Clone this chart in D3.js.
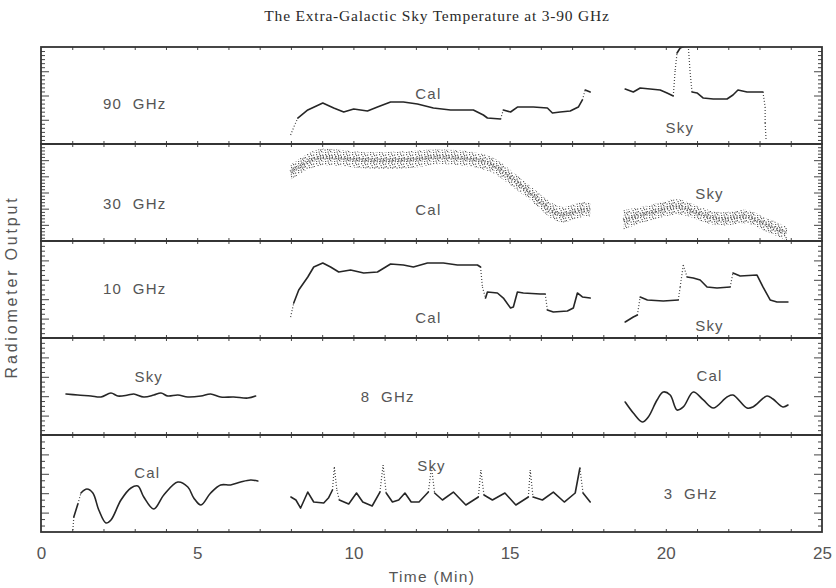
<!DOCTYPE html>
<html>
<head>
<meta charset="utf-8">
<script src="https://cdn.jsdelivr.net/npm/d3@7"></script>
<style>
  html, body { margin: 0; padding: 0; background: #fff; }
  svg { display: block; }
</style>
</head>
<body>
<svg id="chart" width="836" height="588"></svg>
<script>
// ---------------- DATA (time in minutes, output in % of panel height) ----------------
const title = "The Extra-Galactic Sky Temperature at 3-90 GHz";
const xTickValues = [0, 5, 10, 15, 20, 25];
const xLabel = "Time (Min)";
const yLabel = "Radiometer Output";
const panelNames = ["90 GHz", "30 GHz", "10 GHz", "8 GHz", "3 GHz"];
const yMajorDivisions = [4, 6, 5, 5, 5];
const yMinorPerMajor = [6, 5, 4, 4, 3];

// 90 GHz
const cal90 = [[7.99,9.3],[8.1,18],[8.22,26.8],[8.54,35.1],[9.02,42.3],[9.37,37.1],[9.69,33.0],[10.01,36.1],[10.45,34.0],[10.77,38.1],[11.19,43.3],[11.6,43.3],[12.05,41.2],[12.56,37.1],[13.11,35.1],[13.52,35.1],[13.84,35.1],[14.16,29.9],[14.29,26.8],[14.71,25.8],[14.8,35.1],[15.03,33.0],[15.25,38.1],[15.76,38.1],[16.21,37.1],[16.37,32.0],[16.62,33.0],[16.94,34.0],[17.2,38.1],[17.33,45.4],[17.42,55.7],[17.58,53.6]];
const sky90 = [[18.7,56.7],[18.96,53.6],[19.18,57.7],[19.5,56.7],[19.82,55.7],[20.04,52.6],[20.24,49.5],[20.3,76.3],[20.36,93.8],[20.46,99],[20.62,101],[20.72,101],[20.78,73.2],[20.84,53.6],[21.0,52.6],[21.2,47.4],[21.52,46.4],[21.96,46.4],[22.15,50.5],[22.31,55.7],[22.6,53.6],[22.92,53.6],[23.11,53.6],[23.18,38.1],[23.18,21.6],[23.21,4.1]];

// 30 GHz (scatter cloud: centre, half-spread)
const cal30 = [[7.99,71.1,7.7],[8.45,80.4,8],[8.95,88.7,8.8],[10.01,83.5,8],[11.09,82.5,9],[12.15,84.5,9],[12.56,87.6,7],[13.65,85.6,8],[14.48,80.4,8],[15.03,64.9,8],[15.57,52.6,7],[16.08,37.1,8],[16.53,26.8,8],[16.85,26.8,8],[17.26,33.0,8],[17.58,32.0,7]];
const sky30 = [[18.64,21.6,10],[19.18,26.8,8],[19.73,30.9,8],[20.36,37.1,8],[20.78,32.0,7],[21.42,23.7,7],[21.96,21.6,7],[22.6,27.8,7],[23.11,17.5,7],[23.66,11.3,7],[23.88,7.2,7]];

// 10 GHz
const cal10 = [[7.99,21.6],[8.09,36.1],[8.25,49.5],[8.54,62.9],[8.73,73.2],[9.02,77.3],[9.27,73.2],[9.53,68.0],[9.91,70.1],[10.33,67.0],[10.77,68.0],[11.19,76.3],[11.6,75.3],[11.92,73.2],[12.37,77.3],[12.88,77.3],[13.33,75.3],[13.97,75.3],[14.07,73.2],[14.13,52.6],[14.23,41.2],[14.29,47.4],[14.61,46.4],[14.8,41.2],[15.03,30.9],[15.12,32.0],[15.25,47.4],[15.44,46.4],[15.98,45.4],[16.14,45.4],[16.21,28.9],[16.4,26.8],[16.85,27.8],[17.04,30.9],[17.17,46.4],[17.33,42.3],[17.58,41.2]];
const sky10 = [[18.7,16.5],[18.96,21.6],[19.09,23.7],[19.18,42.3],[19.41,39.2],[19.92,38.1],[20.4,39.2],[20.46,52.6],[20.56,75.3],[20.68,62.9],[20.88,61.9],[21.1,59.8],[21.32,52.6],[21.64,51.5],[22.06,52.6],[22.15,67.0],[22.38,63.9],[22.92,64.9],[23.11,52.6],[23.34,39.2],[23.56,37.1],[23.91,37.1]];

// 8 GHz
const sky8 = [[0.8,42.3],[1.18,41.2],[1.6,40.2],[1.92,39.2],[2.24,43.3],[2.46,40.2],[2.78,41.2],[2.97,42.3],[3.29,39.2],[3.61,41.2],[3.84,43.3],[4.06,40.2],[4.38,41.2],[4.7,39.2],[5.12,40.2],[5.43,42.3],[5.75,39.2],[6.17,39.2],[6.62,38.1],[6.87,40.2]];
const cal8 = [[18.7,34.0],[18.96,22.7],[19.25,13.4],[19.44,18.6],[19.72,36.1],[19.92,44.3],[20.14,41.2],[20.36,25.8],[20.56,28.9],[20.88,44.3],[21.2,36.1],[21.52,27.8],[21.96,39.2],[22.15,41.2],[22.6,27.8],[22.79,28.9],[23.24,40.2],[23.43,37.1],[23.75,28.9],[23.91,30.9]];

// 3 GHz
const cal3 = [[1.02,2.1],[1.05,15.5],[1.18,28.9],[1.28,40.2],[1.47,44.3],[1.66,40.2],[1.85,22.7],[2.08,9.3],[2.24,12.4],[2.56,33.0],[2.88,45.4],[3.1,47.4],[3.29,36.1],[3.61,23.7],[3.93,38.1],[4.38,51.5],[4.7,46.4],[4.89,35.1],[5.12,27.8],[5.43,40.2],[5.75,48.5],[6.07,48.5],[6.39,51.5],[6.71,53.6],[6.94,52.6]];
const sky3 = [[8.0,36.1],[8.16,33.0],[8.31,24.7],[8.54,41.2],[8.73,30.9],[9.05,29.9],[9.2,35],[9.33,43.3],[9.39,67.0],[9.47,43.3],[9.55,33.0],[9.85,28.9],[10.1,40.2],[10.3,30.9],[10.6,26.8],[10.85,41.2],[10.95,69.1],[11.05,40.2],[11.25,30.9],[11.45,33.0],[11.65,40.2],[11.85,30.9],[12.1,30.9],[12.4,41.2],[12.5,67.0],[12.6,40.2],[12.85,33.0],[13.2,41.2],[13.6,27.8],[14.0,36.1],[14.08,63.9],[14.18,38.1],[14.45,33.0],[14.85,40.2],[15.2,27.8],[15.6,36.1],[15.66,63.9],[15.75,36.1],[16.05,33.0],[16.4,41.2],[16.75,30.9],[17.1,40.2],[17.25,66.0],[17.35,40.2],[17.58,30.9]];

// Panel text labels: [panel, text, time, output]
const panelLabels = [
  [0, "90 GHz", 3.0, 40], [0, "Cal", 12.4, 50], [0, "Sky", 20.45, 15],
  [1, "30 GHz", 3.0, 37], [1, "Cal", 12.4, 31], [1, "Sky", 21.4, 47],
  [2, "10 GHz", 3.0, 49], [2, "Cal", 12.4, 20], [2, "Sky", 21.4, 11],
  [3, "Sky", 3.45, 58.5], [3, "8 GHz", 11.1, 38.5], [3, "Cal", 21.4, 59.5],
  [4, "Cal", 3.4, 60], [4, "Sky", 12.5, 67], [4, "3 GHz", 20.8, 38.5]
];

// ---------------- LAYOUT ----------------
const svg = d3.select("#chart");
const plotL = 41, plotR = 822, plotT = 47, panelH = 97, nP = 5;
const x = d3.scaleLinear().domain([0, 25]).range([plotL, plotR]);
const ink = "#262626";
const sans = "'Liberation Sans', Arial, sans-serif";

svg.append("text").attr("x", 437).attr("y", 21).attr("text-anchor", "middle")
  .attr("font-family", "'Liberation Serif', 'DejaVu Serif', serif").attr("font-size", 15.5)
  .attr("letter-spacing", 0.8).attr("fill", "#2a2a2a").text(title);

const defs = svg.append("defs");
const pat = defs.append("pattern").attr("id", "speck").attr("patternUnits", "userSpaceOnUse")
  .attr("width", 9).attr("height", 9);
const speckPts = [[1,1],[5,2],[8,4],[3,5],[6,7],[1,8],[4,0.5],[7.5,8.5],[2.5,3],[0.5,5.5],[6.5,4.5],[3.5,7.5],[7,1.5],[5,5.5]];
pat.selectAll("rect").data(speckPts).join("rect")
  .attr("x", d => d[0]).attr("y", d => d[1]).attr("width", 1.2).attr("height", 1.2).attr("fill", "#333");

const ys = [];
for (let p = 0; p < nP; p++) {
  const y0 = plotT + p * panelH;
  const y = d3.scaleLinear().domain([0, 100]).range([y0 + panelH, y0]);
  ys.push(y);
  const g = svg.append("g");
  defs.append("clipPath").attr("id", "clip" + p).append("rect")
    .attr("x", plotL).attr("y", y0).attr("width", plotR - plotL).attr("height", panelH);

  const nMaj = yMajorDivisions[p], nMin = yMinorPerMajor[p];
  const maj = d3.range(1, nMaj).map(i => i * 100 / nMaj);
  const mins = d3.range(1, nMaj * nMin).map(i => i * 100 / (nMaj * nMin)).filter(v => !maj.some(m => Math.abs(m - v) < 1e-6));
  const addAxis = (gen, xPos, vals, size) => g.append("g").attr("transform", `translate(${xPos},0)`)
    .call(gen(y).tickValues(vals).tickSize(size).tickFormat(""))
    .call(a => a.select(".domain").remove());
  addAxis(d3.axisRight, plotL, maj, 8);
  addAxis(d3.axisRight, plotL, mins, 4);
  addAxis(d3.axisLeft, plotR, maj, 8);
  addAxis(d3.axisLeft, plotR, mins, 4);
  const minuteTicks = d3.range(1, 25);
  g.append("g").attr("transform", `translate(0,${y0})`)
    .call(d3.axisBottom(x).tickValues(minuteTicks).tickSize(3).tickFormat(""))
    .call(a => a.select(".domain").remove());
  g.append("g").attr("transform", `translate(0,${y0 + panelH})`)
    .call(d3.axisTop(x).tickValues(minuteTicks).tickSize(3).tickFormat(""))
    .call(a => a.select(".domain").remove());
  g.selectAll(".tick line").attr("stroke", "#444").attr("stroke-width", 1);
}

// split a series into smooth runs and steep (sparsely sampled) jumps
function drawLine(p, data, curve) {
  const y = ys[p];
  const runs = [[data[0]]], jumps = [];
  for (let i = 1; i < data.length; i++) {
    const a = data[i - 1], b = data[i];
    const steep = Math.abs(y(b[1]) - y(a[1])) > 7 && Math.abs(x(b[0]) - x(a[0])) < 4;
    if (steep) { jumps.push([a, b]); runs.push([b]); }
    else runs[runs.length - 1].push(b);
  }
  const gen = d3.line().x(d => x(d[0])).y(d => y(d[1])).curve(curve || d3.curveLinear);
  const jg = d3.line().x(d => x(d[0])).y(d => y(d[1]));
  const grp = svg.append("g").attr("clip-path", `url(#clip${p})`);
  grp.selectAll("path.run").data(runs.filter(r => r.length > 1)).join("path").attr("class", "run")
    .attr("d", gen).attr("fill", "none").attr("stroke", ink).attr("stroke-width", 1.6)
    .attr("stroke-linejoin", "round").attr("stroke-linecap", "round");
  grp.selectAll("path.jump").data(jumps).join("path").attr("class", "jump")
    .attr("d", jg).attr("fill", "none").attr("stroke", "#444").attr("stroke-width", 1.2)
    .attr("stroke-dasharray", "1 2");
}
function drawCloud(p, data) {
  const y = ys[p];
  const area = d3.area().x(d => x(d[0])).y0(d => y(d[1] - d[2])).y1(d => y(d[1] + d[2])).curve(d3.curveBasis);
  const grp = svg.append("g").attr("clip-path", `url(#clip${p})`);
  grp.append("path").datum(data).attr("d", area).attr("fill", "url(#speck)").attr("opacity", 0.8);
  const mid = d3.line().x(d => x(d[0])).y(d => y(d[1])).curve(d3.curveBasis);
  grp.append("path").datum(data).attr("d", mid).attr("fill", "none")
    .attr("stroke", "#444").attr("stroke-width", 4).attr("stroke-dasharray", "1 2").attr("opacity", 0.65);
}
const smooth = d3.curveCatmullRom.alpha(0.5);
drawLine(0, cal90); drawLine(0, sky90);
drawCloud(1, cal30); drawCloud(1, sky30);
drawLine(2, cal10); drawLine(2, sky10);
drawLine(3, sky8, smooth); drawLine(3, cal8, smooth);
drawLine(4, cal3, smooth); drawLine(4, sky3);

for (let p = 0; p < nP; p++) {
  svg.append("rect").attr("x", plotL).attr("y", plotT + p * panelH).attr("width", plotR - plotL).attr("height", panelH)
    .attr("fill", "none").attr("stroke", "#333").attr("stroke-width", 1.8);
}

svg.selectAll("text.pl").data(panelLabels).join("text").attr("class", "pl")
  .attr("x", d => x(d[2])).attr("y", d => ys[d[0]](d[3]))
  .attr("text-anchor", "middle").attr("dominant-baseline", "middle")
  .attr("font-family", sans).attr("font-size", 15)
  .attr("letter-spacing", 1.2).attr("fill", "#555").text(d => d[1].replace(" ", "\u00a0\u00a0"));

const plotB = plotT + nP * panelH;
svg.append("g").attr("transform", `translate(0,${plotB})`)
  .call(d3.axisBottom(x).tickValues(xTickValues).tickSize(0).tickPadding(15).tickFormat(d3.format("d")))
  .call(a => a.select(".domain").remove())
  .call(a => a.selectAll("text").attr("font-family", sans).attr("font-size", 17).attr("fill", "#555"));

svg.append("text").attr("x", 432).attr("y", 582).attr("text-anchor", "middle")
  .attr("font-family", sans).attr("font-size", 15.5)
  .attr("letter-spacing", 1.3).attr("fill", "#555").text(xLabel);

svg.append("text").attr("transform", "translate(17,287) rotate(-90)").attr("text-anchor", "middle")
  .attr("font-family", sans).attr("font-size", 16)
  .attr("letter-spacing", 2.8).attr("fill", "#555").text(yLabel);
</script>
</body>
</html>
